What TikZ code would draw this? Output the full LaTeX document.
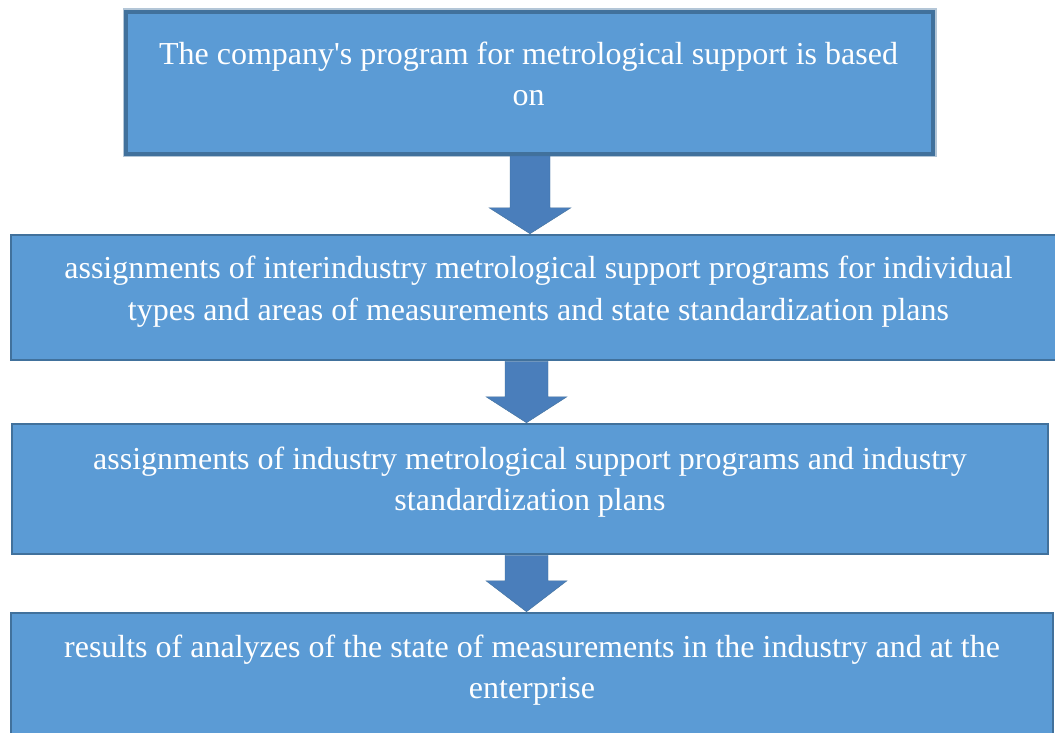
\documentclass[tikz,border=0pt]{standalone}
\usepackage{fontspec}
\setmainfont{Liberation Serif}
\usetikzlibrary{calc}
\definecolor{boxfill}{RGB}{91,155,213}
\definecolor{boxline}{RGB}{65,113,156}
\definecolor{arrowfill}{RGB}{74,126,187}
\begin{document}
\begin{tikzpicture}[x=1pt,y=-1pt,
  box/.style={draw=boxline, fill=boxfill, line width=2.5pt, inner sep=0pt},
  txt/.style={text=white, align=center, font=\fontsize{32}{41.5}\selectfont, inner sep=0pt},
  blockarrow/.style={fill=arrowfill, draw=boxline, line width=0.4pt}]
\useasboundingbox (0,0) rectangle (1055,733);
\fill[white] (0,0) rectangle (1055,733);
\begin{scope}
\clip (0,0) rectangle (1055,733);
\draw[draw=boxline!40, line width=7pt] (126,12) rectangle (933,154);
\node[box, line width=4pt, minimum width=807pt, minimum height=142pt] (b1) at (529.5,83) {};
\node[box, minimum width=1055pt, minimum height=125pt] (b2) at (538.5,297.5) {};
\node[box, minimum width=1036pt, minimum height=130pt] (b3) at (530,489) {};
\node[box, minimum width=1042pt, minimum height=122pt] (b4) at (532,674) {};
\node[txt] (t1) at ($(b1.center)+(-1,-9)$)
  {The company\textquotesingle s program for metrological support is based\\on};
\node[txt] (t2) at ($(b2.center)+(0,-6)$)
  {assignments of interindustry metrological support programs for individual\\types and areas of measurements and state standardization plans};
\node[txt] (t3) at ($(b3.center)+(0,-7)$)
  {assignments of industry metrological support programs and industry\\standardization plans};
\node[txt] (t4) at ($(b4.center)+(0,-4)$)
  {results of analyzes of the state of measurements in the industry and at the\\enterprise};
\draw[blockarrow] let \p1=(b1.south), \p2=(b2.north) in
  (510pt,\y1) -- (550pt,\y1) -- (550pt,{\y2+26pt}) -- (571pt,{\y2+26pt})
  -- (530pt,\y2) -- (489pt,{\y2+26pt}) -- (510pt,{\y2+26pt}) -- cycle;
\draw[blockarrow] let \p1=(b2.south), \p2=(b3.north) in
  (505pt,\y1) -- (548pt,\y1) -- (548pt,{\y2+26pt}) -- (567pt,{\y2+26pt})
  -- (526.5pt,\y2) -- (486pt,{\y2+26pt}) -- (505pt,{\y2+26pt}) -- cycle;
\draw[blockarrow] let \p1=(b3.south), \p2=(b4.north) in
  (505pt,\y1) -- (548pt,\y1) -- (548pt,{\y2+31pt}) -- (567pt,{\y2+31pt})
  -- (526.5pt,\y2) -- (486pt,{\y2+31pt}) -- (505pt,{\y2+31pt}) -- cycle;
\end{scope}
\end{tikzpicture}
\end{document}
